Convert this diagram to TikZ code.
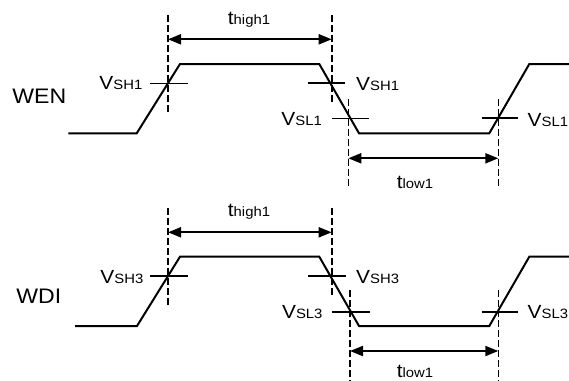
\documentclass[tikz,border=0pt]{standalone}
\usepackage{fontspec}
\setmainfont[FakeStretch=1.1]{Liberation Sans}
\usetikzlibrary{arrows.meta}
\tikzset{
  wave/.style={line width=2pt, line join=miter},
  guide/.style={line width=1.6pt, dash pattern=on 6.5pt off 3.5pt},
  tick/.style={line width=1.6pt},
  dim/.style={line width=2pt, {Triangle[length=13pt,width=10pt]}-{Triangle[length=13pt,width=10pt]}},
  lbl/.style={inner sep=0pt, font=\fontsize{19}{19}\selectfont},
  sig/.style={inner sep=0pt, font=\fontsize{21}{21}\selectfont},
}
\newcommand\sub[1]{{\fontsize{13.5}{13.5}\selectfont #1}}
\begin{document}
\begin{tikzpicture}[x=1pt,y=-1pt]
\useasboundingbox (0,0) rectangle (569,380);
% ---------- WEN ----------
\node[sig, anchor=base west] (wen) at (12.2,103) {WEN};
\draw[wave] (68.3,133.3) -- (136.7,133.3) -- (180,64) -- (319.3,64) -- (359,133.3) -- (489.3,133.3) -- (529.3,64) -- (575,64);
\coordinate (a1t) at (168,15);    \coordinate (a1b) at (168,113);
\coordinate (a2t) at (331.7,15);  \coordinate (a2b) at (331.7,103);
\coordinate (a3t) at (348.3,99);  \coordinate (a3b) at (348.3,188);
\coordinate (a4t) at (498.3,99);  \coordinate (a4b) at (498.3,188);
\draw[guide] (a1t) -- (a1b);
\draw[guide] (a2t) -- (a2b);
\draw[guide] (a3t) -- (a3b);
\draw[guide] (a4t) -- (a4b);
\coordinate (h1l) at (168,39.3);   \coordinate (h1r) at (331.7,39.3);
\coordinate (l1l) at (348.3,158.3); \coordinate (l1r) at (498.3,158.3);
\draw[dim] (h1l) -- (h1r);
\draw[dim] (l1l) -- (l1r);
\node[lbl, anchor=base] (th1) at (249,24.5) {t\sub{high1}};
\node[lbl, anchor=base] (tl1) at (415,188) {t\sub{low1}};
\coordinate (k1a) at (150,83.3);   \coordinate (k1b) at (187.7,83.3);
\coordinate (k2a) at (307.7,82.7); \coordinate (k2b) at (345,82.7);
\coordinate (k3a) at (331.7,118.3);\coordinate (k3b) at (369.3,118.3);
\coordinate (k4a) at (481.7,118);  \coordinate (k4b) at (518.3,118);
\draw[tick] (k1a) -- (k1b);
\draw[tick] (k2a) -- (k2b);
\draw[tick] (k3a) -- (k3b);
\draw[tick] (k4a) -- (k4b);
\node[lbl, anchor=base east] (v1) at (142.5,89.8) {V\sub{SH1}};
\node[lbl, anchor=base west] (v2) at (356,90.5) {V\sub{SH1}};
\node[lbl, anchor=base east] (v3) at (322,125.3) {V\sub{SL1}};
\node[lbl, anchor=base west] (v4) at (527.5,126) {V\sub{SL1}};
% ---------- WDI ----------
\node[sig, anchor=base west] (wdi) at (16.2,303.3) {WDI};
\draw[wave] (75,326) -- (137,326) -- (180,256.7) -- (319.3,256.7) -- (359,326) -- (489.3,326) -- (529.3,256.7) -- (575,256.7);
\coordinate (b1t) at (168,208);    \coordinate (b1b) at (168,305);
\coordinate (b2t) at (331.7,208);  \coordinate (b2b) at (331.7,297);
\coordinate (b3t) at (350,290);    \coordinate (b3b) at (350,385);
\coordinate (b4t) at (498.3,290);  \coordinate (b4b) at (498.3,385);
\draw[guide] (b1t) -- (b1b);
\draw[guide] (b2t) -- (b2b);
\draw[guide] (b3t) -- (b3b);
\draw[guide] (b4t) -- (b4b);
\coordinate (h2l) at (168,232.3);   \coordinate (h2r) at (331.7,232.3);
\coordinate (l2l) at (350,351);     \coordinate (l2r) at (498.3,351);
\draw[dim] (h2l) -- (h2r);
\draw[dim] (l2l) -- (l2r);
\node[lbl, anchor=base] (th2) at (249,216.5) {t\sub{high1}};
\node[lbl, anchor=base] (tl2) at (415,377) {t\sub{low1}};
\coordinate (m1a) at (150,276);    \coordinate (m1b) at (187.7,276);
\coordinate (m2a) at (308.3,276);  \coordinate (m2b) at (345.7,276);
\coordinate (m3a) at (331.7,311.7);\coordinate (m3b) at (370,311.7);
\coordinate (m4a) at (481.7,311.7);\coordinate (m4b) at (518.3,311.7);
\draw[tick] (m1a) -- (m1b);
\draw[tick] (m2a) -- (m2b);
\draw[tick] (m3a) -- (m3b);
\draw[tick] (m4a) -- (m4b);
\node[lbl, anchor=base east] (w1) at (143.5,283.3) {V\sub{SH3}};
\node[lbl, anchor=base west] (w2) at (356,283.3) {V\sub{SH3}};
\node[lbl, anchor=base east] (w3) at (322.7,318.3) {V\sub{SL3}};
\node[lbl, anchor=base west] (w4) at (527.5,318.3) {V\sub{SL3}};
\end{tikzpicture}
\end{document}
